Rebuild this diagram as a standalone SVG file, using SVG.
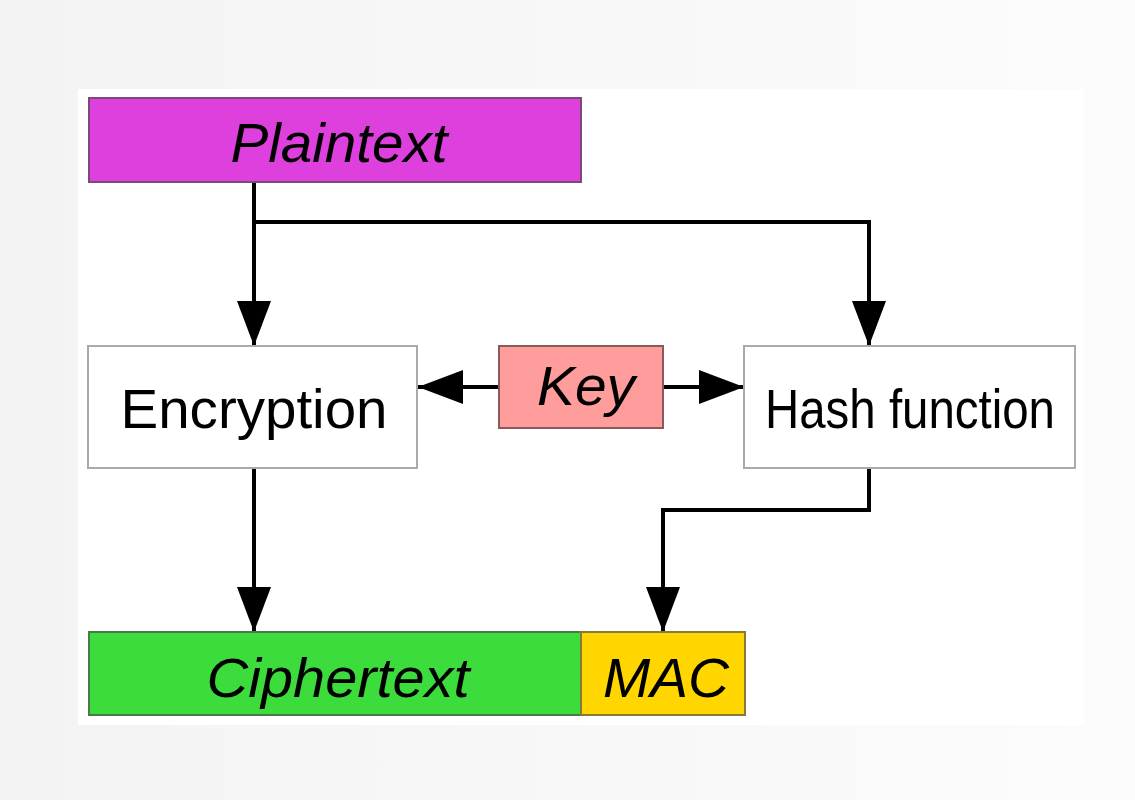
<svg xmlns="http://www.w3.org/2000/svg" width="1135" height="800" viewBox="0 0 1135 800">
<defs>
<linearGradient id="bg" x1="0" y1="0" x2="1" y2="0">
<stop offset="0" stop-color="#f3f3f3"/>
<stop offset="1" stop-color="#fcfcfc"/>
</linearGradient>
<marker id="ah" viewBox="0 0 45 34" refX="45" refY="17" markerWidth="45" markerHeight="34" markerUnits="userSpaceOnUse" orient="auto">
<path d="M0,0 L45,17 L0,34 Z" fill="#000"/>
</marker>
<style>
.box{stroke-width:2}
.lbl{font-family:"Liberation Sans",Arial,sans-serif;font-size:56px;fill:#000;text-anchor:middle}
.it{font-style:italic}
.con{fill:none;stroke:#000;stroke-width:4;marker-end:url(#ah)}
</style>
</defs>
<rect x="0" y="0" width="1135" height="800" fill="url(#bg)"/>
<rect x="78" y="89" width="1006" height="636" fill="#fff"/>
<g id="connectors">
<path class="con" d="M254,182 V346"/>
<path class="con" d="M254,222 H869 V346"/>
<path class="con" d="M254,468 V632"/>
<path class="con" d="M869,468 V510 H663 V632"/>
<path class="con" d="M499,387 H418"/>
<path class="con" d="M663,387 H744"/>
</g>
<g id="plaintext">
<rect class="box" x="89" y="98" width="492" height="84" fill="#dd40dd" stroke="#7a4a7a"/>
<text class="lbl it" x="339" y="162" textLength="217" lengthAdjust="spacingAndGlyphs">Plaintext</text>
</g>
<g id="encryption">
<rect class="box" x="88" y="346" width="329" height="122" fill="#fff" stroke="#aaa"/>
<text class="lbl" x="254" y="428" textLength="267" lengthAdjust="spacingAndGlyphs">Encryption</text>
</g>
<g id="key">
<rect class="box" x="499" y="346" width="164" height="82" fill="#ff9c9c" stroke="#8a5a5a"/>
<text class="lbl it" x="586" y="405" textLength="98" lengthAdjust="spacingAndGlyphs">Key</text>
</g>
<g id="hash">
<rect class="box" x="744" y="346" width="331" height="122" fill="#fff" stroke="#aaa"/>
<text class="lbl" x="910" y="428" textLength="290" lengthAdjust="spacingAndGlyphs">Hash function</text>
</g>
<g id="ciphertext">
<rect class="box" x="89" y="632" width="492" height="83" fill="#3ddc3d" stroke="#4a7a4a"/>
<text class="lbl it" x="338" y="697" textLength="263" lengthAdjust="spacingAndGlyphs">Ciphertext</text>
</g>
<g id="mac">
<rect class="box" x="581" y="632" width="164" height="83" fill="#ffd600" stroke="#8a7a3a"/>
<text class="lbl it" x="666" y="697" textLength="126" lengthAdjust="spacingAndGlyphs">MAC</text>
</g>
</svg>
